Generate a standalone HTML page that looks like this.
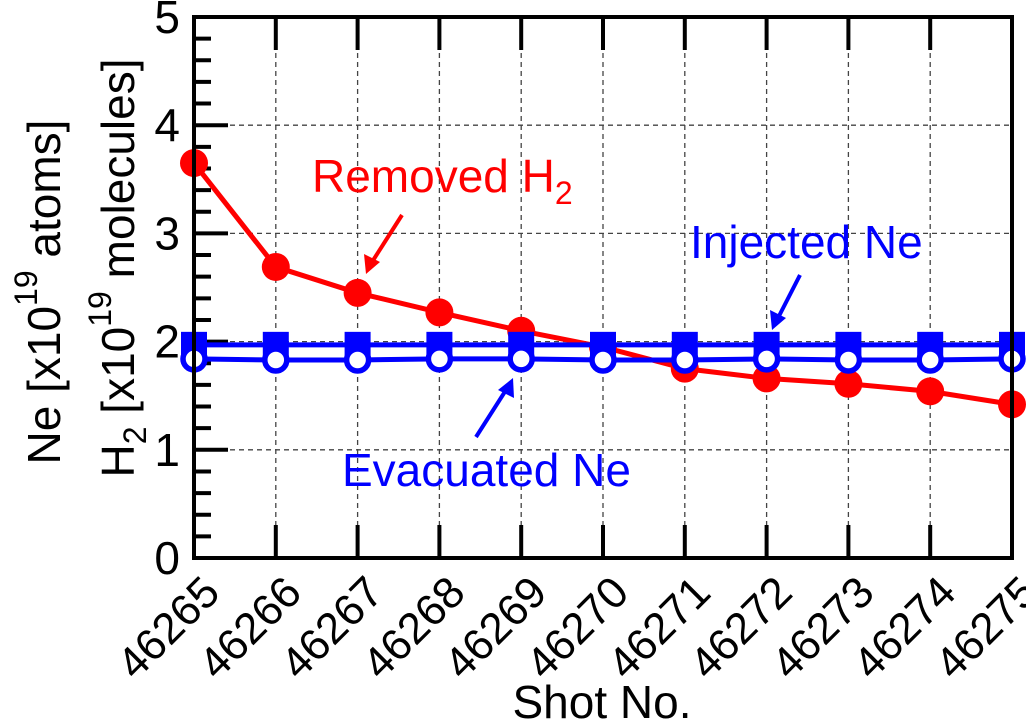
<!DOCTYPE html>
<html><head><meta charset="utf-8"><style>
body{margin:0;background:#fff;}
svg{display:block;font-family:"Liberation Sans",Arial,sans-serif;}
</style></head><body>
<svg id="chart" width="1026" height="721" viewBox="0 0 1026 721" xmlns="http://www.w3.org/2000/svg">
<g id="grid"></g>
<g id="ticks"></g>
<g id="series"></g>
<rect x="194" y="17" width="818" height="541" fill="none" stroke="#000" stroke-width="4"/>
<g id="labels" font-size="46"></g>
<text x="602" y="718" font-size="46" text-anchor="middle">Shot No.</text>
<text transform="translate(60,292) rotate(-90)" font-size="46" text-anchor="middle">Ne [x10<tspan dy="-23" font-size="32">19</tspan><tspan dy="23"> atoms]</tspan></text>
<text transform="translate(134,268) rotate(-90)" font-size="46" text-anchor="middle">H<tspan dy="12" font-size="32">2</tspan><tspan dy="-12"> [x10</tspan><tspan dy="-23" font-size="32">19</tspan><tspan dy="23"> molecules]</tspan></text>
<text x="312" y="192" font-size="46" fill="#f00">Removed H<tspan dy="12" font-size="32">2</tspan></text>
<text x="690" y="258" font-size="46" fill="#00f">Injected Ne</text>
<text x="342" y="486" font-size="46" fill="#00f">Evacuated Ne</text>
<g stroke="#f00" fill="#f00" stroke-width="4">
<line x1="402" y1="215" x2="372" y2="262"/><polygon points="366,274 364,254 380,262" stroke="none"/></g>
<g stroke="#00f" fill="#00f" stroke-width="4">
<line x1="800" y1="275" x2="778" y2="318"/><polygon points="772,330 770,310 786,318" stroke="none"/></g>
<g stroke="#00f" fill="#00f" stroke-width="4">
<line x1="476" y1="437" x2="506" y2="390"/><polygon points="513,378 514,398 498,390" stroke="none"/></g>
</svg>
<script>
const shots=["46265","46266","46267","46268","46269","46270","46271","46272","46273","46274","46275"];
const removedH2=[3.65,2.69,2.45,2.27,2.10,1.95,1.75,1.66,1.61,1.54,1.42];
const injectedNe=[1.97,1.97,1.97,1.97,1.97,1.97,1.97,1.97,1.97,1.97,1.97];
const evacuatedNe=[1.84,1.83,1.83,1.84,1.84,1.83,1.83,1.84,1.83,1.83,1.84];
const yTicks=[0,1,2,3,4,5];
const NS="http://www.w3.org/2000/svg";
const X0=194,X1=1012,Y0=558,Y1=17;
const xs=i=>X0+(X1-X0)*i/(shots.length-1);
const ys=v=>Y0-(Y0-Y1)*v/5;
function mk(tag,attrs,parent){const e=document.createElementNS(NS,tag);for(const k in attrs)e.setAttribute(k,attrs[k]);document.getElementById(parent).appendChild(e);return e;}
yTicks.forEach(v=>{if(v>0&&v<5){const l=mk('line',{x1:X0,x2:X1,y1:ys(v),y2:ys(v),stroke:'#444','stroke-width':1.3,'stroke-dasharray':'5,4'},'grid');

}});
shots.forEach((s,i)=>{if(i>0&&i<shots.length-1){const l=mk('line',{x1:xs(i),x2:xs(i),y1:Y1,y2:Y0,stroke:'#444','stroke-width':1.3,'stroke-dasharray':'5,4'},'grid');

}});
for(let k=0;k<=25;k++){const v=k/5;const major=k%5===0;const l=mk('line',{x1:X0,x2:X0+(major?34:17),y1:ys(v),y2:ys(v),stroke:'#000','stroke-width':4},'ticks');

}
shots.forEach((s,i)=>{const a=mk('line',{x1:xs(i),x2:xs(i),y1:Y0,y2:Y0-33,stroke:'#000','stroke-width':4},'ticks');


const b=mk('line',{x1:xs(i),x2:xs(i),y1:Y1,y2:Y1+33,stroke:'#000','stroke-width':4},'ticks');

});
yTicks.forEach(v=>{const t=mk('text',{x:X0-14,y:ys(v)+16,'text-anchor':'end'},'labels');t.textContent=v;

});
shots.forEach((s,i)=>{const t=mk('text',{transform:`translate(${xs(i)+28},${Y0+37}) rotate(-45)`,'text-anchor':'end','font-size':44},'labels');t.textContent=s;

});
function line(arr,color,name){const p=mk('polyline',{points:arr.map((v,i)=>xs(i)+','+ys(v)).join(' '),fill:'none',stroke:color,'stroke-width':5},'series');

}
line(removedH2,'#f00','removed-h2-line');
removedH2.forEach((v,i)=>{const c=mk('circle',{cx:xs(i),cy:ys(v),r:14,fill:'#f00'},'series');

});
line(injectedNe,'#00f','injected-ne-line');
injectedNe.forEach((v,i)=>{const r=mk('rect',{x:xs(i)-13,y:ys(v)-13,width:26,height:26,fill:'#00f'},'series');

});
line(evacuatedNe,'#00f','evacuated-ne-line');
evacuatedNe.forEach((v,i)=>{const c=mk('circle',{cx:xs(i),cy:ys(v),r:11,fill:'#fff',stroke:'#00f','stroke-width':5.5},'series');

});
</script>
</body></html>
